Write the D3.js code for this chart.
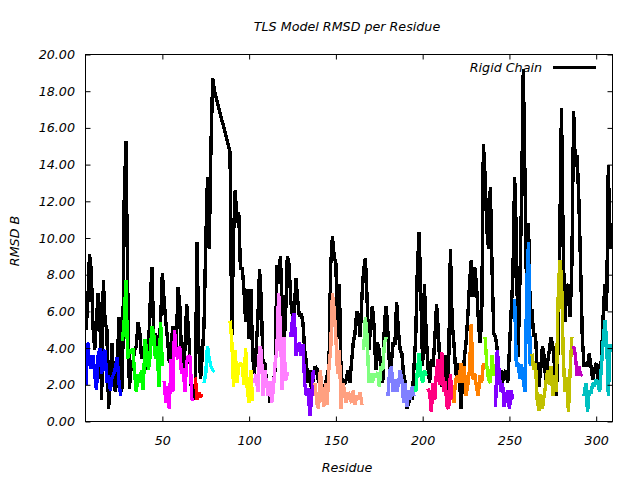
<!DOCTYPE html>
<html><head><meta charset="utf-8">
<script src="https://cdn.jsdelivr.net/npm/d3@7"></script>
<style>
body{margin:0;background:#fff}
svg{display:block}
text{font-family:"DejaVu Sans",sans-serif;font-style:italic;font-size:12.7px;fill:#000}
</style>
</head><body>
<svg id="chart" width="640" height="480"></svg>
<script>
// ---------- data ----------
const chartTitle = "TLS Model RMSD per Residue";
const xLabel = "Residue";
const yLabel = "RMSD B";
const legendLabel = "Rigid Chain";
const xTicks = [50, 100, 150, 200, 250, 300];
const yTicks = [0, 2, 4, 6, 8, 10, 12, 14, 16, 18, 20];

// Rigid chain RMSD, residues 6-80
const rigidStartA = 6;
const rigidValuesA = [
  5.0, 6.4, 9.1, 8.3, 5.2, 3.9, 5.5, 7.0, 5.7, 1.2,
  7.7, 5.4, 5.0, 0.7, 2.3, 4.3, 2.1, 1.6, 3.0, 5.7,
  1.6, 1.9, 12.0, 15.3, 7.5, 1.8, 3.0, 3.2, 3.9, 4.1,
  5.4, 4.8, 3.4, 3.9, 4.3, 2.8, 3.9, 6.5, 8.4, 4.6,
  4.8, 4.3, 3.9, 5.5, 8.1, 6.6, 5.4, 4.5, 3.2, 4.0,
  5.2, 4.2, 4.0, 7.3, 6.4, 3.7, 2.8, 3.9, 6.4, 5.0,
  3.2, 1.2, 1.2, 2.1, 9.8, 4.1, 2.3, 3.6, 5.2, 9.7,
  13.3, 9.4, 15.0, 18.7, 18.0
];
// Rigid chain RMSD, residues 89-309
const rigidStartB = 89;
const rigidValuesB = [
  14.7, 4.6, 10.1, 12.6, 10.8, 11.4, 8.3, 8.4, 7.2, 5.4,
  7.2, 4.5, 7.2, 3.6, 2.6, 3.9, 5.5, 8.3, 6.6, 3.0,
  3.2, 2.2, 1.9, 1.0, 1.6, 2.2, 2.8, 8.5, 7.5, 9.0,
  6.5, 3.9, 5.7, 9.0, 8.6, 6.6, 5.7, 6.0, 7.8, 6.6,
  5.7, 5.9, 5.4, 3.9, 3.2, 2.1, 2.8, 1.6, 2.4, 3.0,
  2.9, 2.1, 2.3, 1.4, 1.8, 2.1, 2.5, 3.0, 8.5, 10.1,
  9.0, 8.6, 4.5, 7.5, 2.5, 2.1, 2.0, 2.3, 2.8, 2.1,
  3.2, 4.3, 4.8, 6.0, 5.7, 4.6, 6.8, 8.3, 8.9, 6.6,
  3.9, 5.2, 6.3, 5.2, 2.8, 4.3, 3.9, 2.8, 2.1, 5.4,
  6.3, 4.8, 2.8, 3.2, 4.3, 4.2, 6.5, 5.0, 3.9, 3.7,
  2.6, 2.1, 0.7, 1.0, 1.4, 1.2, 3.0, 4.6, 8.5, 10.3,
  6.6, 3.0, 7.5, 4.8, 3.0, 2.1, 3.4, 3.0, 4.5, 6.4,
  5.0, 2.8, 1.9, 2.8, 3.6, 1.7, 3.2, 9.4, 5.4, 4.3,
  2.8, 2.1, 3.2, 0.7, 2.1, 3.4, 4.3, 5.7, 7.5, 8.8,
  6.8, 8.4, 7.5, 5.7, 4.3, 5.4, 15.1, 13.3, 10.4, 9.4,
  12.8, 8.3, 4.8, 4.6, 3.9, 2.3, 2.8, 2.1, 2.6, 2.8,
  2.1, 3.9, 6.0, 7.9, 13.3, 10.1, 3.5, 7.5, 12.1, 19.2,
  13.0, 6.0, 10.8, 5.9, 6.1, 4.6, 4.8, 2.8, 1.9, 2.8,
  4.1, 3.6, 2.1, 3.2, 3.9, 4.6, 4.1, 3.0, 1.4, 3.9,
  10.0, 17.1, 9.5, 5.4, 7.2, 7.5, 5.7, 8.6, 16.9, 13.9,
  14.5, 12.1, 8.5, 4.6, 3.0, 3.2, 3.0, 3.7, 3.0, 2.3,
  2.8, 3.2, 2.3, 3.0, 3.3, 5.7, 7.5, 6.0, 14.0, 9.4,
  10.8
];

// TLS groups: first residue of each group and its RMSD values
const groupStarts = [6, 27, 51, 69, 74, 89, 103, 124, 138, 166, 180, 196, 203, 218, 236, 242, 253, 263, 287, 293];
const groupValues = [
  [2.0, 4.3, 3.2, 2.9, 3.6, 2.6, 1.7, 3.6, 4.0, 2.6, 3.7, 3.9, 2.1, 2.5, 1.7, 2.4, 2.6, 3.0, 3.5, 2.1, 1.4],
  [4.4, 5.5, 7.7, 3.4, 3.9, 3.7, 4.0, 2.6, 1.6, 2.6, 2.1, 2.8, 1.7, 4.5, 3.9, 2.8, 3.6, 5.2, 4.8, 3.4, 4.1, 1.9, 5.4, 3.0],
  [2.2, 1.0, 1.9, 0.7, 3.4, 1.6, 5.0, 3.7, 3.4, 4.1, 2.6, 2.9, 1.6, 3.2, 3.6, 3.5, 1.2, 1.2],
  [2.4, 1.2, 1.6, 1.3, 1.5],
  [2.1, 2.6, 4.1, 3.4, 3.0, 2.8, 2.7],
  [5.5, 4.4, 1.9, 3.9, 2.1, 3.0, 3.2, 3.0, 2.0, 4.0, 1.6, 1.0, 2.8, 1.1],
  [2.1, 2.6, 1.6, 4.1, 3.9, 1.4, 2.8, 2.1, 1.4, 2.2, 1.0, 1.8, 3.2, 3.9, 7.0, 5.2, 1.7, 4.6, 2.2, 2.6, 2.6],
  [4.6, 5.6, 5.9, 3.6, 4.0, 4.3, 3.6, 4.2, 2.1, 1.4, 1.8, 0.3, 1.2, 2.8],
  [2.1, 1.0, 0.7, 2.8, 1.7, 0.8, 2.1, 0.9, 3.0, 3.9, 7.0, 6.1, 4.5, 2.6, 3.9, 0.7, 2.1, 1.7, 1.0, 1.6, 1.4, 1.0, 1.7, 0.9, 1.4, 1.2, 1.6, 0.9],
  [3.9, 5.7, 4.6, 2.1, 2.6, 2.1, 2.6, 2.4, 2.7, 1.9, 3.0, 2.8, 4.3, 4.6],
  [1.4, 2.8, 3.0, 1.6, 2.3, 1.6, 2.0, 2.8, 2.3, 1.0, 2.1, 0.8, 1.7, 1.2, 1.9, 1.4],
  [1.6, 2.8, 3.7, 2.5, 2.1, 2.8, 2.5],
  [1.8, 1.6, 0.5, 2.1, 1.2, 2.8, 3.4, 2.0, 3.8, 1.6, 2.2, 0.8, 0.7, 2.6, 1.2],
  [1.0, 2.3, 2.5, 2.1, 3.2, 2.1, 3.0, 1.4, 2.0, 2.8, 5.3, 2.3, 2.6, 1.9, 1.4, 2.5, 2.1, 3.2],
  [4.6, 3.0, 2.3, 2.1, 3.6, 2.5],
  [0.8, 3.9, 2.8, 1.6, 2.1, 0.8, 1.4, 1.7, 0.7, 1.7, 1.2],
  [6.7, 3.0, 3.2, 2.3, 3.1, 2.2, 1.6, 7.5, 9.8, 3.0],
  [3.7, 2.8, 3.2, 1.2, 0.6, 1.5, 0.7, 1.4, 2.1, 2.8, 2.0, 3.0, 1.4, 2.5, 1.6, 6.5, 8.8, 7.9, 3.6, 1.6, 2.4, 0.5, 2.8, 4.6],
  [4.1, 3.6, 2.5, 3.0, 2.5, 2.6],
  [1.4, 2.1, 0.5, 1.7, 1.5, 2.1, 1.9, 2.3, 2.1, 1.6, 3.0, 4.3, 5.5, 4.5, 1.4, 4.2, 3.9]
];
const groupColors = ["#0000ff", "#00ff00", "#ff00ff", "#ff0000", "#00ffff", "#ffff00", "#ff80ff", "#8000ff",
  "#ffa080", "#80ff80", "#8080ff", "#00ff80", "#ff0080", "#ff8000", "#80ff00", "#8000ff",
  "#0080ff", "#c0c000", "#c000c0", "#00c0c0"];

// ---------- drawing ----------
const svg = d3.select("#chart");
const L = 85.5, R = 612.5, T = 54.5, B = 421.5;
const x = d3.scaleLinear().domain([5.7, 309.4]).range([L, R]);
const y = d3.scaleLinear().domain([0, 20]).range([B, T]);

const toPoints = (start, vals) => vals.map((v, i) => ({ r: start + i, v }));
const rigidPoints = toPoints(rigidStartA, rigidValuesA).concat(toPoints(rigidStartB, rigidValuesB));

svg.append("defs").append("clipPath").attr("id", "clip")
  .append("rect").attr("x", L).attr("y", T).attr("width", R - L).attr("height", B - T);

const line = d3.line().x(d => x(d.r)).y(d => y(d.v));
const plot = svg.append("g").attr("clip-path", "url(#clip)");

const lw = 3.4;
plot.append("path").datum(rigidPoints).attr("d", line)
  .attr("fill", "none").attr("stroke", "#000").attr("stroke-width", lw)
  .attr("stroke-linejoin", "bevel").attr("shape-rendering", "crispEdges");

groupValues.forEach((vals, i) => {
  plot.append("path").datum(toPoints(groupStarts[i], vals)).attr("d", line)
    .attr("fill", "none").attr("stroke", groupColors[i]).attr("stroke-width", lw)
    .attr("stroke-linejoin", "bevel").attr("shape-rendering", "crispEdges");
});

// axes (ticks inward, mirrored)
const tk = 5;
const gx = svg.append("g").attr("transform", `translate(0,${B})`)
  .call(d3.axisBottom(x).tickValues(xTicks).tickFormat(d3.format("d")).tickSizeInner(-tk).tickSizeOuter(0));
gx.selectAll("text").attr("y", 14);
const gxTop = svg.append("g").attr("transform", `translate(0,${T})`)
  .call(d3.axisTop(x).tickValues(xTicks).tickFormat("").tickSizeInner(-tk).tickSizeOuter(0));
const gy = svg.append("g").attr("transform", `translate(${L},0)`)
  .call(d3.axisLeft(y).tickValues(yTicks).tickFormat(d3.format(".2f")).tickSizeInner(-tk).tickSizeOuter(0));
gy.selectAll("text").attr("x", -10.5);
const gyR = svg.append("g").attr("transform", `translate(${R},0)`)
  .call(d3.axisRight(y).tickValues(yTicks).tickFormat("").tickSizeInner(-tk).tickSizeOuter(0));
[gx, gxTop, gy, gyR].forEach(g => {
  g.attr("font-family", null).attr("font-size", null);
  g.select(".domain").remove();
  g.selectAll("line").attr("stroke", "#000");
});

svg.append("rect").attr("x", L).attr("y", T).attr("width", R - L).attr("height", B - T)
  .attr("fill", "none").attr("stroke", "#000").attr("stroke-width", 1);

// texts
svg.append("text").attr("x", 347).attr("y", 31).attr("text-anchor", "middle").text(chartTitle);
svg.append("text").attr("x", 347).attr("y", 472).attr("text-anchor", "middle").text(xLabel);
svg.append("text").attr("transform", "translate(18.5,241) rotate(-90)").attr("text-anchor", "middle").text(yLabel);

// legend
svg.append("text").attr("x", 542).attr("y", 72).attr("text-anchor", "end").text(legendLabel);
svg.append("line").attr("x1", 553).attr("x2", 596).attr("y1", 67.5).attr("y2", 67.5)
  .attr("stroke", "#000").attr("stroke-width", 3);
</script>
</body></html>
